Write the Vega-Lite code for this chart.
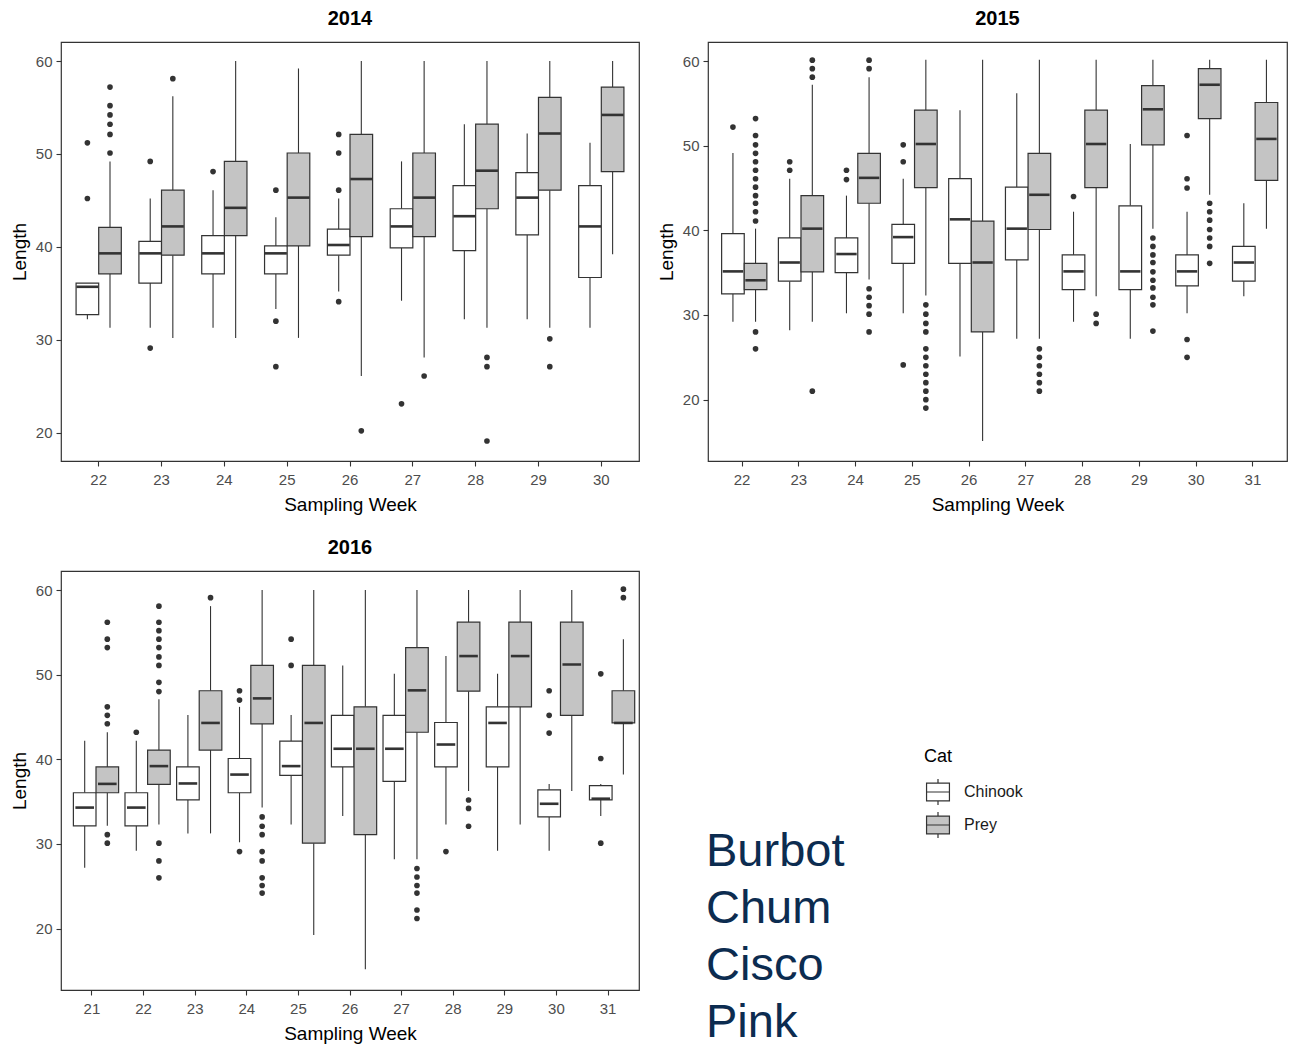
{
  "$schema": "https://vega.github.io/schema/vega-lite/v6.json",
  "background": "white",
  "padding": {"left": 9, "top": 8, "right": 0, "bottom": 0},
  "datasets": {
    "boxes": [
      {"yr":2014,"w":22,"c":"Chinook","lo":32.2,"q1":32.7,"md":35.7,"q3":36.1,"hi":36.1},
      {"yr":2014,"w":22,"c":"Prey","lo":31.3,"q1":37.1,"md":39.3,"q3":42.1,"hi":49.2},
      {"yr":2014,"w":23,"c":"Chinook","lo":31.3,"q1":36.1,"md":39.3,"q3":40.6,"hi":45.2},
      {"yr":2014,"w":23,"c":"Prey","lo":30.2,"q1":39.1,"md":42.2,"q3":46.1,"hi":56.2},
      {"yr":2014,"w":24,"c":"Chinook","lo":31.3,"q1":37.1,"md":39.3,"q3":41.2,"hi":46.1},
      {"yr":2014,"w":24,"c":"Prey","lo":30.2,"q1":41.2,"md":44.2,"q3":49.2,"hi":60},
      {"yr":2014,"w":25,"c":"Chinook","lo":33.3,"q1":37.1,"md":39.3,"q3":40.1,"hi":43.2},
      {"yr":2014,"w":25,"c":"Prey","lo":30.2,"q1":40.1,"md":45.3,"q3":50.1,"hi":59.2},
      {"yr":2014,"w":26,"c":"Chinook","lo":35.2,"q1":39.1,"md":40.2,"q3":41.9,"hi":45.2},
      {"yr":2014,"w":26,"c":"Prey","lo":26.1,"q1":41.1,"md":47.3,"q3":52.1,"hi":60},
      {"yr":2014,"w":27,"c":"Chinook","lo":34.2,"q1":39.9,"md":42.2,"q3":44.1,"hi":49.2},
      {"yr":2014,"w":27,"c":"Prey","lo":28.1,"q1":41.1,"md":45.3,"q3":50.1,"hi":60},
      {"yr":2014,"w":28,"c":"Chinook","lo":32.2,"q1":39.6,"md":43.3,"q3":46.6,"hi":53.2},
      {"yr":2014,"w":28,"c":"Prey","lo":31.3,"q1":44.1,"md":48.2,"q3":53.2,"hi":60},
      {"yr":2014,"w":29,"c":"Chinook","lo":32.2,"q1":41.3,"md":45.3,"q3":48,"hi":52.2},
      {"yr":2014,"w":29,"c":"Prey","lo":31.3,"q1":46.1,"md":52.2,"q3":56.1,"hi":60},
      {"yr":2014,"w":30,"c":"Chinook","lo":31.3,"q1":36.7,"md":42.2,"q3":46.6,"hi":51.2},
      {"yr":2014,"w":30,"c":"Prey","lo":39.2,"q1":48.1,"md":54.2,"q3":57.2,"hi":60},

      {"yr":2015,"w":22,"c":"Chinook","lo":29.2,"q1":32.5,"md":35.15,"q3":39.6,"hi":49.15},
      {"yr":2015,"w":22,"c":"Prey","lo":29.2,"q1":33,"md":34.1,"q3":36.1,"hi":40.2},
      {"yr":2015,"w":23,"c":"Chinook","lo":28.2,"q1":34,"md":36.2,"q3":39.1,"hi":46.1},
      {"yr":2015,"w":23,"c":"Prey","lo":29.2,"q1":35.1,"md":40.2,"q3":44.1,"hi":57.2},
      {"yr":2015,"w":24,"c":"Chinook","lo":30.2,"q1":35,"md":37.2,"q3":39.1,"hi":44.1},
      {"yr":2015,"w":24,"c":"Prey","lo":34.2,"q1":43.2,"md":46.2,"q3":49.1,"hi":58.1},
      {"yr":2015,"w":25,"c":"Chinook","lo":30.2,"q1":36.1,"md":39.2,"q3":40.7,"hi":46.1},
      {"yr":2015,"w":25,"c":"Prey","lo":32.3,"q1":45.05,"md":50.2,"q3":54.2,"hi":60.15},
      {"yr":2015,"w":26,"c":"Chinook","lo":25.1,"q1":36.1,"md":41.3,"q3":46.1,"hi":54.2},
      {"yr":2015,"w":26,"c":"Prey","lo":15.1,"q1":28,"md":36.2,"q3":41.1,"hi":60.15},
      {"yr":2015,"w":27,"c":"Chinook","lo":27.2,"q1":36.5,"md":40.2,"q3":45.1,"hi":56.2},
      {"yr":2015,"w":27,"c":"Prey","lo":27.2,"q1":40.1,"md":44.2,"q3":49.1,"hi":60.15},
      {"yr":2015,"w":28,"c":"Chinook","lo":29.2,"q1":33,"md":35.15,"q3":37.1,"hi":42.2},
      {"yr":2015,"w":28,"c":"Prey","lo":32.2,"q1":45.05,"md":50.2,"q3":54.2,"hi":60.15},
      {"yr":2015,"w":29,"c":"Chinook","lo":27.2,"q1":33,"md":35.15,"q3":42.9,"hi":50.2},
      {"yr":2015,"w":29,"c":"Prey","lo":40.2,"q1":50.1,"md":54.3,"q3":57.1,"hi":60.15},
      {"yr":2015,"w":30,"c":"Chinook","lo":30.2,"q1":33.45,"md":35.15,"q3":37.1,"hi":42.2},
      {"yr":2015,"w":30,"c":"Prey","lo":44.2,"q1":53.2,"md":57.2,"q3":59.1,"hi":60.15},
      {"yr":2015,"w":31,"c":"Chinook","lo":32.2,"q1":34,"md":36.2,"q3":38.1,"hi":43.2},
      {"yr":2015,"w":31,"c":"Prey","lo":40.2,"q1":45.9,"md":50.8,"q3":55.1,"hi":60.15},

      {"yr":2016,"w":21,"c":"Chinook","lo":27.2,"q1":32.15,"md":34.3,"q3":36.05,"hi":42.2},
      {"yr":2016,"w":21,"c":"Prey","lo":32.15,"q1":36.05,"md":37.1,"q3":39.1,"hi":43.2},
      {"yr":2016,"w":22,"c":"Chinook","lo":29.2,"q1":32.15,"md":34.3,"q3":36.05,"hi":42.2},
      {"yr":2016,"w":22,"c":"Prey","lo":32.3,"q1":37.05,"md":39.2,"q3":41.1,"hi":47.1},
      {"yr":2016,"w":23,"c":"Chinook","lo":31.25,"q1":35.2,"md":37.15,"q3":39.1,"hi":45.25},
      {"yr":2016,"w":23,"c":"Prey","lo":31.25,"q1":41.1,"md":44.3,"q3":48.1,"hi":58.1},
      {"yr":2016,"w":24,"c":"Chinook","lo":30.2,"q1":36.05,"md":38.2,"q3":40.1,"hi":46.2},
      {"yr":2016,"w":24,"c":"Prey","lo":34.3,"q1":44.2,"md":47.2,"q3":51.1,"hi":60},
      {"yr":2016,"w":25,"c":"Chinook","lo":32.3,"q1":38.1,"md":39.2,"q3":42.15,"hi":45.25},
      {"yr":2016,"w":25,"c":"Prey","lo":19.25,"q1":30.1,"md":44.3,"q3":51.1,"hi":60},
      {"yr":2016,"w":26,"c":"Chinook","lo":33.3,"q1":39.1,"md":41.25,"q3":45.2,"hi":51.1},
      {"yr":2016,"w":26,"c":"Prey","lo":15.2,"q1":31.1,"md":41.25,"q3":46.2,"hi":60},
      {"yr":2016,"w":27,"c":"Chinook","lo":28.2,"q1":37.4,"md":41.25,"q3":45.2,"hi":50.1},
      {"yr":2016,"w":27,"c":"Prey","lo":28.2,"q1":43.2,"md":48.15,"q3":53.2,"hi":60},
      {"yr":2016,"w":28,"c":"Chinook","lo":32.3,"q1":39.1,"md":41.75,"q3":44.35,"hi":52.2},
      {"yr":2016,"w":28,"c":"Prey","lo":36.25,"q1":48.05,"md":52.2,"q3":56.2,"hi":60},
      {"yr":2016,"w":29,"c":"Chinook","lo":29.2,"q1":39.1,"md":44.3,"q3":46.2,"hi":50.1},
      {"yr":2016,"w":29,"c":"Prey","lo":32.3,"q1":46.2,"md":52.2,"q3":56.2,"hi":60},
      {"yr":2016,"w":30,"c":"Chinook","lo":29.2,"q1":33.2,"md":34.75,"q3":36.4,"hi":37.1},
      {"yr":2016,"w":30,"c":"Prey","lo":36.25,"q1":45.2,"md":51.2,"q3":56.2,"hi":60},
      {"yr":2016,"w":31,"c":"Chinook","lo":33.3,"q1":35.2,"md":35.35,"q3":36.9,"hi":37.1},
      {"yr":2016,"w":31,"c":"Prey","lo":38.2,"q1":44.3,"md":44.3,"q3":48.1,"hi":54.2}
    ],
    "out": [
      {"yr":2014,"w":22,"c":"Chinook","v":51.2},{"yr":2014,"w":22,"c":"Chinook","v":45.2},
      {"yr":2014,"w":22,"c":"Prey","v":57.2},{"yr":2014,"w":22,"c":"Prey","v":55.2},{"yr":2014,"w":22,"c":"Prey","v":54.2},{"yr":2014,"w":22,"c":"Prey","v":53.2},{"yr":2014,"w":22,"c":"Prey","v":52.1},{"yr":2014,"w":22,"c":"Prey","v":50.1},
      {"yr":2014,"w":23,"c":"Chinook","v":49.2},{"yr":2014,"w":23,"c":"Chinook","v":29.1},
      {"yr":2014,"w":23,"c":"Prey","v":58.1},
      {"yr":2014,"w":24,"c":"Chinook","v":48.1},
      {"yr":2014,"w":25,"c":"Chinook","v":46.1},{"yr":2014,"w":25,"c":"Chinook","v":32},{"yr":2014,"w":25,"c":"Chinook","v":27.1},
      {"yr":2014,"w":26,"c":"Chinook","v":52.1},{"yr":2014,"w":26,"c":"Chinook","v":50.1},{"yr":2014,"w":26,"c":"Chinook","v":46.1},{"yr":2014,"w":26,"c":"Chinook","v":34.1},
      {"yr":2014,"w":26,"c":"Prey","v":20.2},
      {"yr":2014,"w":27,"c":"Chinook","v":23.1},
      {"yr":2014,"w":27,"c":"Prey","v":26.1},
      {"yr":2014,"w":28,"c":"Prey","v":28.1},{"yr":2014,"w":28,"c":"Prey","v":27.1},{"yr":2014,"w":28,"c":"Prey","v":19.1},
      {"yr":2014,"w":29,"c":"Prey","v":30.1},{"yr":2014,"w":29,"c":"Prey","v":27.1},

      {"yr":2015,"w":22,"c":"Chinook","v":52.2},
      {"yr":2015,"w":22,"c":"Prey","v":53.2},{"yr":2015,"w":22,"c":"Prey","v":51.2},{"yr":2015,"w":22,"c":"Prey","v":50.1},{"yr":2015,"w":22,"c":"Prey","v":49.1},{"yr":2015,"w":22,"c":"Prey","v":48.1},{"yr":2015,"w":22,"c":"Prey","v":47.1},{"yr":2015,"w":22,"c":"Prey","v":46.1},{"yr":2015,"w":22,"c":"Prey","v":45.1},{"yr":2015,"w":22,"c":"Prey","v":44.1},{"yr":2015,"w":22,"c":"Prey","v":43.2},{"yr":2015,"w":22,"c":"Prey","v":42.2},{"yr":2015,"w":22,"c":"Prey","v":41.1},{"yr":2015,"w":22,"c":"Prey","v":28},{"yr":2015,"w":22,"c":"Prey","v":26},
      {"yr":2015,"w":23,"c":"Chinook","v":48.1},{"yr":2015,"w":23,"c":"Chinook","v":47.1},
      {"yr":2015,"w":23,"c":"Prey","v":60.1},{"yr":2015,"w":23,"c":"Prey","v":59.1},{"yr":2015,"w":23,"c":"Prey","v":58.1},{"yr":2015,"w":23,"c":"Prey","v":21},
      {"yr":2015,"w":24,"c":"Chinook","v":47.1},{"yr":2015,"w":24,"c":"Chinook","v":46},
      {"yr":2015,"w":24,"c":"Prey","v":60.1},{"yr":2015,"w":24,"c":"Prey","v":59.1},{"yr":2015,"w":24,"c":"Prey","v":33.1},{"yr":2015,"w":24,"c":"Prey","v":32.1},{"yr":2015,"w":24,"c":"Prey","v":31.1},{"yr":2015,"w":24,"c":"Prey","v":30.1},{"yr":2015,"w":24,"c":"Prey","v":28},
      {"yr":2015,"w":25,"c":"Chinook","v":50.1},{"yr":2015,"w":25,"c":"Chinook","v":48.1},{"yr":2015,"w":25,"c":"Chinook","v":24.1},
      {"yr":2015,"w":25,"c":"Prey","v":31.2},{"yr":2015,"w":25,"c":"Prey","v":30.1},{"yr":2015,"w":25,"c":"Prey","v":29},{"yr":2015,"w":25,"c":"Prey","v":28},{"yr":2015,"w":25,"c":"Prey","v":26},{"yr":2015,"w":25,"c":"Prey","v":25},{"yr":2015,"w":25,"c":"Prey","v":24},{"yr":2015,"w":25,"c":"Prey","v":23},{"yr":2015,"w":25,"c":"Prey","v":22},{"yr":2015,"w":25,"c":"Prey","v":21},{"yr":2015,"w":25,"c":"Prey","v":20},{"yr":2015,"w":25,"c":"Prey","v":19},
      {"yr":2015,"w":27,"c":"Prey","v":26},{"yr":2015,"w":27,"c":"Prey","v":25},{"yr":2015,"w":27,"c":"Prey","v":24},{"yr":2015,"w":27,"c":"Prey","v":23},{"yr":2015,"w":27,"c":"Prey","v":22},{"yr":2015,"w":27,"c":"Prey","v":21},
      {"yr":2015,"w":28,"c":"Chinook","v":44},
      {"yr":2015,"w":28,"c":"Prey","v":30.1},{"yr":2015,"w":28,"c":"Prey","v":29},
      {"yr":2015,"w":29,"c":"Prey","v":39.1},{"yr":2015,"w":29,"c":"Prey","v":38.1},{"yr":2015,"w":29,"c":"Prey","v":37.1},{"yr":2015,"w":29,"c":"Prey","v":36.2},{"yr":2015,"w":29,"c":"Prey","v":35.1},{"yr":2015,"w":29,"c":"Prey","v":34.1},{"yr":2015,"w":29,"c":"Prey","v":33.2},{"yr":2015,"w":29,"c":"Prey","v":32.1},{"yr":2015,"w":29,"c":"Prey","v":31.2},{"yr":2015,"w":29,"c":"Prey","v":28.1},
      {"yr":2015,"w":30,"c":"Chinook","v":51.2},{"yr":2015,"w":30,"c":"Chinook","v":46.1},{"yr":2015,"w":30,"c":"Chinook","v":45},{"yr":2015,"w":30,"c":"Chinook","v":27.1},{"yr":2015,"w":30,"c":"Chinook","v":25},
      {"yr":2015,"w":30,"c":"Prey","v":43.2},{"yr":2015,"w":30,"c":"Prey","v":42.2},{"yr":2015,"w":30,"c":"Prey","v":41.2},{"yr":2015,"w":30,"c":"Prey","v":40.1},{"yr":2015,"w":30,"c":"Prey","v":39.1},{"yr":2015,"w":30,"c":"Prey","v":38.1},{"yr":2015,"w":30,"c":"Prey","v":36.1},

      {"yr":2016,"w":21,"c":"Prey","v":56.2},{"yr":2016,"w":21,"c":"Prey","v":54.2},{"yr":2016,"w":21,"c":"Prey","v":53.2},{"yr":2016,"w":21,"c":"Prey","v":46.2},{"yr":2016,"w":21,"c":"Prey","v":45.2},{"yr":2016,"w":21,"c":"Prey","v":44.2},{"yr":2016,"w":21,"c":"Prey","v":31.1},{"yr":2016,"w":21,"c":"Prey","v":30.1},
      {"yr":2016,"w":22,"c":"Chinook","v":43.2},
      {"yr":2016,"w":22,"c":"Prey","v":58.1},{"yr":2016,"w":22,"c":"Prey","v":56.2},{"yr":2016,"w":22,"c":"Prey","v":55.2},{"yr":2016,"w":22,"c":"Prey","v":54.2},{"yr":2016,"w":22,"c":"Prey","v":53.2},{"yr":2016,"w":22,"c":"Prey","v":52.1},{"yr":2016,"w":22,"c":"Prey","v":51.1},{"yr":2016,"w":22,"c":"Prey","v":49.1},{"yr":2016,"w":22,"c":"Prey","v":48},{"yr":2016,"w":22,"c":"Prey","v":30.1},{"yr":2016,"w":22,"c":"Prey","v":28},{"yr":2016,"w":22,"c":"Prey","v":26},
      {"yr":2016,"w":23,"c":"Prey","v":59.1},
      {"yr":2016,"w":24,"c":"Chinook","v":48.1},{"yr":2016,"w":24,"c":"Chinook","v":47},{"yr":2016,"w":24,"c":"Chinook","v":29.1},
      {"yr":2016,"w":24,"c":"Prey","v":33.2},{"yr":2016,"w":24,"c":"Prey","v":32.1},{"yr":2016,"w":24,"c":"Prey","v":31.1},{"yr":2016,"w":24,"c":"Prey","v":29.1},{"yr":2016,"w":24,"c":"Prey","v":28},{"yr":2016,"w":24,"c":"Prey","v":26},{"yr":2016,"w":24,"c":"Prey","v":25.1},{"yr":2016,"w":24,"c":"Prey","v":24.2},
      {"yr":2016,"w":25,"c":"Chinook","v":54.2},{"yr":2016,"w":25,"c":"Chinook","v":51.1},
      {"yr":2016,"w":27,"c":"Prey","v":27.1},{"yr":2016,"w":27,"c":"Prey","v":26.1},{"yr":2016,"w":27,"c":"Prey","v":25.1},{"yr":2016,"w":27,"c":"Prey","v":24.2},{"yr":2016,"w":27,"c":"Prey","v":22.2},{"yr":2016,"w":27,"c":"Prey","v":21.2},
      {"yr":2016,"w":28,"c":"Chinook","v":29.1},
      {"yr":2016,"w":28,"c":"Prey","v":35.2},{"yr":2016,"w":28,"c":"Prey","v":34.2},{"yr":2016,"w":28,"c":"Prey","v":32.1},
      {"yr":2016,"w":30,"c":"Chinook","v":48.1},{"yr":2016,"w":30,"c":"Chinook","v":45.2},{"yr":2016,"w":30,"c":"Chinook","v":43.1},
      {"yr":2016,"w":31,"c":"Chinook","v":50.1},{"yr":2016,"w":31,"c":"Chinook","v":40.1},{"yr":2016,"w":31,"c":"Chinook","v":30.1},
      {"yr":2016,"w":31,"c":"Prey","v":60.1},{"yr":2016,"w":31,"c":"Prey","v":59.1}
    ],
    "species": [
      {"n":"Burbot","p":4},{"n":"Chum","p":3},{"n":"Cisco","p":2},{"n":"Pink","p":1}
    ]
  },
  "spacing": 22,
  "vconcat": [
    {
      "spacing": 16,
      "hconcat": [
        {
          "title": "2014",
          "width": 578, "height": 419,
          "layer": [
            {"data": {"name": "boxes"}, "transform": [{"filter": "datum.yr == 2014"}],
             "mark": {"type": "rule", "color": "#333333", "strokeWidth": 1.1},
             "encoding": {
               "x": {"field": "w", "type": "ordinal", "title": "Sampling Week", "scale": {"paddingInner": 0.28, "paddingOuter": 0.24}},
               "xOffset": {"field": "c", "type": "nominal", "scale": {"domain": ["Chinook", "Prey"], "paddingInner": 0, "paddingOuter": 0}},
               "y": {"field": "lo", "type": "quantitative", "title": "Length", "scale": {"domain": [16.95, 62.05], "nice": false, "zero": false}, "axis": {"values": [20, 30, 40, 50, 60]}},
               "y2": {"field": "q1"}}},
            {"data": {"name": "boxes"}, "transform": [{"filter": "datum.yr == 2014"}],
             "mark": {"type": "rule", "color": "#333333", "strokeWidth": 1.1},
             "encoding": {
               "x": {"field": "w", "type": "ordinal", "title": "Sampling Week"},
               "xOffset": {"field": "c", "type": "nominal"},
               "y": {"field": "q3", "type": "quantitative", "title": "Length"},
               "y2": {"field": "hi"}}},
            {"data": {"name": "boxes"}, "transform": [{"filter": "datum.yr == 2014"}],
             "mark": {"type": "bar", "stroke": "#333333", "strokeWidth": 1.2},
             "encoding": {
               "x": {"field": "w", "type": "ordinal", "title": "Sampling Week"},
               "xOffset": {"field": "c", "type": "nominal"},
               "y": {"field": "q1", "type": "quantitative", "title": "Length"},
               "y2": {"field": "q3"},
               "fill": {"field": "c", "type": "nominal", "title": "Cat", "scale": {"domain": ["Chinook", "Prey"], "range": ["#FFFFFF", "#C4C4C4"]}}}},
            {"data": {"name": "boxes"}, "transform": [{"filter": "datum.yr == 2014"}],
             "mark": {"type": "tick", "color": "#333333", "thickness": 2.6, "size": 22, "opacity": 1},
             "encoding": {
               "x": {"field": "w", "type": "ordinal", "title": "Sampling Week"},
               "xOffset": {"field": "c", "type": "nominal"},
               "y": {"field": "md", "type": "quantitative", "title": "Length"}}},
            {"data": {"name": "out"}, "transform": [{"filter": "datum.yr == 2014"}],
             "mark": {"type": "circle", "color": "#333333", "size": 32, "opacity": 1},
             "encoding": {
               "x": {"field": "w", "type": "ordinal", "title": "Sampling Week"},
               "xOffset": {"field": "c", "type": "nominal"},
               "y": {"field": "v", "type": "quantitative", "title": "Length"}}}
          ]
        },
        {
          "title": "2015",
          "width": 579, "height": 419,
          "layer": [
            {"data": {"name": "boxes"}, "transform": [{"filter": "datum.yr == 2015"}],
             "mark": {"type": "rule", "color": "#333333", "strokeWidth": 1.1},
             "encoding": {
               "x": {"field": "w", "type": "ordinal", "title": "Sampling Week", "scale": {"paddingInner": 0.28, "paddingOuter": 0.24}},
               "xOffset": {"field": "c", "type": "nominal", "scale": {"domain": ["Chinook", "Prey"], "paddingInner": 0, "paddingOuter": 0}},
               "y": {"field": "lo", "type": "quantitative", "title": "Length", "scale": {"domain": [12.75, 62.25], "nice": false, "zero": false}, "axis": {"values": [20, 30, 40, 50, 60]}},
               "y2": {"field": "q1"}}},
            {"data": {"name": "boxes"}, "transform": [{"filter": "datum.yr == 2015"}],
             "mark": {"type": "rule", "color": "#333333", "strokeWidth": 1.1},
             "encoding": {
               "x": {"field": "w", "type": "ordinal", "title": "Sampling Week"},
               "xOffset": {"field": "c", "type": "nominal"},
               "y": {"field": "q3", "type": "quantitative", "title": "Length"},
               "y2": {"field": "hi"}}},
            {"data": {"name": "boxes"}, "transform": [{"filter": "datum.yr == 2015"}],
             "mark": {"type": "bar", "stroke": "#333333", "strokeWidth": 1.2},
             "encoding": {
               "x": {"field": "w", "type": "ordinal", "title": "Sampling Week"},
               "xOffset": {"field": "c", "type": "nominal"},
               "y": {"field": "q1", "type": "quantitative", "title": "Length"},
               "y2": {"field": "q3"},
               "fill": {"field": "c", "type": "nominal", "title": "Cat", "scale": {"domain": ["Chinook", "Prey"], "range": ["#FFFFFF", "#C4C4C4"]}}}},
            {"data": {"name": "boxes"}, "transform": [{"filter": "datum.yr == 2015"}],
             "mark": {"type": "tick", "color": "#333333", "thickness": 2.6, "size": 20.4, "opacity": 1},
             "encoding": {
               "x": {"field": "w", "type": "ordinal", "title": "Sampling Week"},
               "xOffset": {"field": "c", "type": "nominal"},
               "y": {"field": "md", "type": "quantitative", "title": "Length"}}},
            {"data": {"name": "out"}, "transform": [{"filter": "datum.yr == 2015"}],
             "mark": {"type": "circle", "color": "#333333", "size": 32, "opacity": 1},
             "encoding": {
               "x": {"field": "w", "type": "ordinal", "title": "Sampling Week"},
               "xOffset": {"field": "c", "type": "nominal"},
               "y": {"field": "v", "type": "quantitative", "title": "Length"}}}
          ]
        }
      ]
    },
    {
      "spacing": 66,
      "hconcat": [
        {
          "title": "2016",
          "width": 578, "height": 419,
          "layer": [
            {"data": {"name": "boxes"}, "transform": [{"filter": "datum.yr == 2016"}],
             "mark": {"type": "rule", "color": "#333333", "strokeWidth": 1.1},
             "encoding": {
               "x": {"field": "w", "type": "ordinal", "title": "Sampling Week", "scale": {"paddingInner": 0.28, "paddingOuter": 0.24}},
               "xOffset": {"field": "c", "type": "nominal", "scale": {"domain": ["Chinook", "Prey"], "paddingInner": 0, "paddingOuter": 0}},
               "y": {"field": "lo", "type": "quantitative", "title": "Length", "scale": {"domain": [12.75, 62.25], "nice": false, "zero": false}, "axis": {"values": [20, 30, 40, 50, 60]}},
               "y2": {"field": "q1"}}},
            {"data": {"name": "boxes"}, "transform": [{"filter": "datum.yr == 2016"}],
             "mark": {"type": "rule", "color": "#333333", "strokeWidth": 1.1},
             "encoding": {
               "x": {"field": "w", "type": "ordinal", "title": "Sampling Week"},
               "xOffset": {"field": "c", "type": "nominal"},
               "y": {"field": "q3", "type": "quantitative", "title": "Length"},
               "y2": {"field": "hi"}}},
            {"data": {"name": "boxes"}, "transform": [{"filter": "datum.yr == 2016"}],
             "mark": {"type": "bar", "stroke": "#333333", "strokeWidth": 1.2},
             "encoding": {
               "x": {"field": "w", "type": "ordinal", "title": "Sampling Week"},
               "xOffset": {"field": "c", "type": "nominal"},
               "y": {"field": "q1", "type": "quantitative", "title": "Length"},
               "y2": {"field": "q3"},
               "fill": {"field": "c", "type": "nominal", "title": "Cat", "scale": {"domain": ["Chinook", "Prey"], "range": ["#FFFFFF", "#C4C4C4"]}}}},
            {"data": {"name": "boxes"}, "transform": [{"filter": "datum.yr == 2016"}],
             "mark": {"type": "tick", "color": "#333333", "thickness": 2.6, "size": 18.6, "opacity": 1},
             "encoding": {
               "x": {"field": "w", "type": "ordinal", "title": "Sampling Week"},
               "xOffset": {"field": "c", "type": "nominal"},
               "y": {"field": "md", "type": "quantitative", "title": "Length"}}},
            {"data": {"name": "out"}, "transform": [{"filter": "datum.yr == 2016"}],
             "mark": {"type": "circle", "color": "#333333", "size": 32, "opacity": 1},
             "encoding": {
               "x": {"field": "w", "type": "ordinal", "title": "Sampling Week"},
               "xOffset": {"field": "c", "type": "nominal"},
               "y": {"field": "v", "type": "quantitative", "title": "Length"}}}
          ]
        },
        {
          "width": 560, "height": 419,
          "view": {"stroke": null},
          "data": {"name": "species"},
          "mark": {"type": "text", "align": "left", "baseline": "alphabetic", "fontSize": 47, "font": "Liberation Sans", "color": "#0C2C50"},
          "encoding": {
            "x": {"datum": 0, "type": "quantitative", "scale": {"domain": [0, 1]}, "axis": null},
            "y": {"field": "p", "type": "quantitative", "scale": {"domain": [1.825, 9.175], "nice": false, "zero": false}, "axis": null},
            "text": {"field": "n", "type": "nominal"}
          }
        }
      ]
    }
  ],
  "resolve": {"scale": {"fill": "shared"}, "legend": {"fill": "shared"}},
  "config": {
    "font": "Liberation Sans",
    "view": {"stroke": "#333333", "strokeWidth": 1.2},
    "axis": {"domain": false, "grid": false, "ticks": true, "tickColor": "#333333", "tickSize": 5, "tickWidth": 1.1, "labelColor": "#4D4D4D", "labelFontSize": 15, "labelPadding": 4, "titleFontSize": 19, "titleFontWeight": "normal", "titleColor": "#000000", "titlePadding": 6},
    "axisX": {"labelAngle": 0, "labelPadding": 6, "titlePadding": 8},
    "title": {"fontSize": 20, "fontWeight": "bold", "anchor": "middle", "offset": 13, "color": "#000000"},
    "legend": {
      "orient": "none", "legendX": 863, "legendY": 706,
      "titleFontSize": 18, "titleFontWeight": "normal", "titleColor": "#000000", "titlePadding": 12,
      "labelFontSize": 16, "labelColor": "#1A1A1A", "labelOffset": 12,
      "symbolType": "M-0.88,-0.69H0.88V0.69H-0.88Z M-0.88,0H0.88 M0,-0.69V-1 M0,0.69V1",
      "symbolSize": 676, "symbolStrokeColor": "#333333", "symbolStrokeWidth": 1.2, "symbolOpacity": 1,
      "rowPadding": 1
    }
  }
}
